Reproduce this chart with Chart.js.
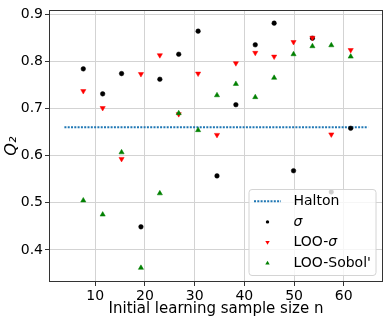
<!DOCTYPE html>
<html lang="en">
  <head>
    <meta charset="UTF-8" />
    <title>Q2 vs initial sample size</title>
    <script src="https://cdn.jsdelivr.net/npm/chart.js"></script>
    <style>
      body {
        margin: 0;
        padding: 0;
        background: #fff;
      }
      #wrap {
        width: 390px;
        height: 322px;
      }
    </style>
  </head>
  <body>
    <div id="wrap"><canvas id="chart" width="390" height="322"></canvas></div>

    <script>
      // data
      const sampleSizes = [7.6, 11.5, 15.3, 19.2, 23.0, 26.8, 30.7, 34.5, 38.3, 42.2, 46.0, 49.9, 53.7, 57.5, 61.4];
      const sigmaQ2 = [0.784, 0.731, 0.774, 0.449, 0.762, 0.815, 0.864, 0.557, 0.708, 0.835, 0.881, 0.568, 0.849, 0.523, 0.658];
      const looSigmaQ2 = [0.737, 0.701, 0.593, 0.773, 0.813, 0.688, 0.774, 0.644, 0.796, 0.818, 0.810, 0.841, 0.850, 0.645, 0.824];
      const looSobolQ2 = [0.505, 0.475, 0.607, 0.362, 0.520, 0.690, 0.654, 0.728, 0.752, 0.724, 0.765, 0.815, 0.832, 0.834, 0.810];
      const haltonQ2 = 0.66;
      const haltonRange = [3.8, 64.9];

      const xTicks = [10, 20, 30, 40, 50, 60];
      const yTicks = [0.4, 0.5, 0.6, 0.7, 0.8, 0.9];

      const FONT = "'DejaVu Sans', sans-serif";

      const toPoints = (ys) => sampleSizes.map((x, i) => ({ x: x, y: ys[i] }));

      // four spines like matplotlib
      const frame = {
        id: "frame",
        afterDatasetsDraw(chart) {
          const { ctx, chartArea: a } = chart;
          ctx.save();
          ctx.strokeStyle = "#333";
          ctx.lineWidth = 1;
          ctx.strokeRect(Math.round(a.left) + 0.5, Math.round(a.top) + 0.5,
            Math.round(a.right - a.left) - 1, Math.round(a.bottom - a.top) - 1);
          ctx.restore();
        },
      };

      // legend box inside the axes, lower right
      const innerLegend = {
        id: "innerLegend",
        afterDraw(chart) {
          const { ctx, chartArea: a } = chart;
          const w = 127, h = 86;
          const x0 = a.right - 7 - w;
          const y0 = a.bottom - 6.5 - h;
          ctx.save();
          ctx.beginPath();
          ctx.roundRect(x0, y0, w, h, 3);
          ctx.fillStyle = "rgba(255,255,255,0.8)";
          ctx.fill();
          ctx.strokeStyle = "#d4d4d4";
          ctx.lineWidth = 1;
          ctx.stroke();

          const hx = x0 + 5, hw = 27, mx = hx + hw / 2, tx = x0 + 44.5;
          const rows = [y0 + 11.8, y0 + 32.4, y0 + 53, y0 + 73.4];

          // Halton
          ctx.strokeStyle = "#1f77b4";
          ctx.lineWidth = 2;
          ctx.setLineDash([2, 1.3]);
          ctx.beginPath();
          ctx.moveTo(hx, rows[0]);
          ctx.lineTo(hx + hw, rows[0]);
          ctx.stroke();
          ctx.setLineDash([]);

          // sigma dot
          ctx.fillStyle = "#000";
          ctx.beginPath();
          ctx.arc(mx, rows[1], 1.7, 0, Math.PI * 2);
          ctx.fill();

          // LOO-sigma (down triangle)
          ctx.fillStyle = "#ff0000";
          ctx.beginPath();
          ctx.moveTo(mx - 2.2, rows[2] - 1.6);
          ctx.lineTo(mx + 2.2, rows[2] - 1.6);
          ctx.lineTo(mx, rows[2] + 2.2);
          ctx.closePath();
          ctx.fill();

          // LOO-Sobol' (up triangle)
          ctx.fillStyle = "#008000";
          ctx.beginPath();
          ctx.moveTo(mx - 2.2, rows[3] + 1.6);
          ctx.lineTo(mx + 2.2, rows[3] + 1.6);
          ctx.lineTo(mx, rows[3] - 2.2);
          ctx.closePath();
          ctx.fill();

          ctx.fillStyle = "#000";
          ctx.textBaseline = "middle";
          ctx.textAlign = "left";
          ctx.font = "14px " + FONT;
          ctx.fillText("Halton", tx, rows[0]);
          ctx.font = "italic 14px " + FONT;
          ctx.fillText("\u03C3", tx, rows[1]);
          ctx.font = "14px " + FONT;
          ctx.fillText("LOO-", tx, rows[2]);
          const lw = ctx.measureText("LOO-").width;
          ctx.font = "italic 14px " + FONT;
          ctx.fillText("\u03C3", tx + lw, rows[2]);
          ctx.font = "14px " + FONT;
          ctx.fillText("LOO-Sobol'", tx, rows[3]);
          ctx.restore();
        },
      };

      new Chart(document.getElementById("chart"), {
        type: "scatter",
        data: {
          datasets: [
            {
              label: "Halton",
              type: "line",
              data: haltonRange.map((x) => ({ x: x, y: haltonQ2 })),
              borderColor: "#1f77b4",
              borderWidth: 2,
              borderDash: [2, 1.3],
              pointRadius: 0,
              fill: false,
              order: 4,
            },
            {
              label: "\u03C3",
              data: toPoints(sigmaQ2),
              backgroundColor: "#000",
              borderColor: "#000",
              borderWidth: 0.5,
              pointRadius: 2.3,
              order: 3,
            },
            {
              label: "LOO-\u03C3",
              data: toPoints(looSigmaQ2),
              pointStyle: "triangle",
              rotation: 180,
              backgroundColor: "#ff0000",
              borderColor: "#ff0000",
              borderWidth: 0.5,
              pointRadius: 3,
              order: 2,
            },
            {
              label: "LOO-Sobol'",
              data: toPoints(looSobolQ2),
              pointStyle: "triangle",
              backgroundColor: "#008000",
              borderColor: "#008000",
              borderWidth: 0.5,
              pointRadius: 3,
              order: 1,
            },
          ],
        },
        options: {
          responsive: false,
          animation: false,
          devicePixelRatio: 1,
          layout: { padding: { top: 7, right: 7, left: 0, bottom: 0 } },
          plugins: {
            legend: { display: false },
            tooltip: { enabled: false },
          },
          scales: {
            x: {
              type: "linear",
              min: 0.7,
              max: 67.9,
              afterBuildTicks: (s) => { s.ticks = xTicks.map((v) => ({ value: v })); },
              afterFit: (s) => { s.height = 40; },
              border: { display: false },
              grid: { color: "#d3d3d3", lineWidth: 1, tickColor: "#333", tickLength: 4 },
              ticks: {
                color: "#000",
                padding: 2,
                font: { family: FONT, size: 14 },
                callback: (v) => String(v),
              },
              title: {
                display: true,
                text: "Initial learning sample size n",
                color: "#000",
                font: { family: FONT, size: 15 },
                padding: { top: 0, bottom: 4 },
              },
            },
            y: {
              min: 0.332,
              max: 0.908,
              afterBuildTicks: (s) => { s.ticks = yTicks.map((v) => ({ value: v })); },
              afterFit: (s) => { s.width = 49; },
              border: { display: false },
              grid: { color: "#d3d3d3", lineWidth: 1, tickColor: "#333", tickLength: 4 },
              ticks: {
                color: "#000",
                padding: 2,
                font: { family: FONT, size: 14 },
                callback: (v) => v.toFixed(1),
              },
              title: {
                display: true,
                text: "Q\u2082",
                color: "#000",
                font: { family: FONT, size: 16, style: "italic" },
                padding: { top: 2, bottom: 0 },
              },
            },
          },
        },
        plugins: [frame, innerLegend],
      });
    </script>
  </body>
</html>
